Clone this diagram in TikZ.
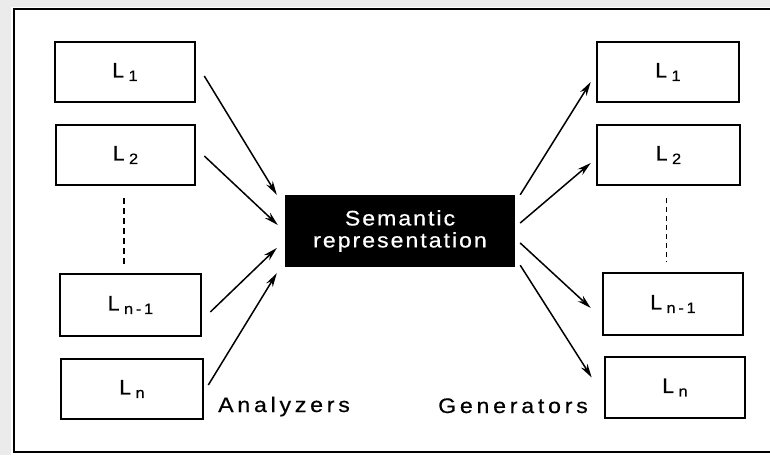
\documentclass[tikz,border=0pt]{standalone}
\usepackage{fontspec}
\setmainfont{Liberation Sans}[FakeBold=0.5]
\newfontfamily\widefont[LetterSpace=9.5,FakeStretch=1.1,FakeBold=0.5]{Liberation Sans}
\newfontfamily\tagfont[LetterSpace=18,FakeStretch=1.1,FakeBold=0.5]{Liberation Sans}
\usetikzlibrary{arrows.meta,calc}

\newcommand{\lang}[1]{L\kern4.5pt\raisebox{-3.5pt}{\tagfont\fontsize{15}{15}\selectfont #1}}

\tikzset{
  langbox/.style={draw=black, line width=2.6pt, fill=white, inner sep=0pt,
    font=\fontsize{21}{21}\selectfont},
  sembox/.style={fill=black, text=white, inner sep=0pt, align=center,
    font=\widefont\fontsize{21}{22}\selectfont},
  arr/.style={line width=1.5pt, -{Stealth[length=14pt,width=7.5pt]}},
  tag/.style={font=\tagfont\fontsize{21}{21}\selectfont, inner sep=0pt},
  frameline/.style={line width=1.8pt},
}

\begin{document}
\begin{tikzpicture}[x=1pt, y=-1pt]
  % page background and frame
  \fill[black!8] (0,0) rectangle (770,455);
  \fill[white] (11,7) rectangle (770,455);
  \useasboundingbox (0,0) rectangle (770,455);
  \draw[frameline] (772,9) -- (14,9) -- (14,452) -- (772,452);

  % analyzer side
  \node[langbox, minimum width=140pt, minimum height=60pt] (l1) at (125,72) {\lang{1}};
  \node[langbox, minimum width=139pt, minimum height=60pt] (l2) at (125.5,155) {\lang{2}};
  \node[langbox, minimum width=141pt, minimum height=62pt] (ln1) at (130.5,305) {\lang{n-1}};
  \node[langbox, minimum width=142pt, minimum height=60pt] (ln) at (132,389) {\lang{n}};

  % generator side
  \node[langbox, minimum width=142pt, minimum height=60pt] (r1) at (668,72) {\lang{1}};
  \node[langbox, minimum width=143pt, minimum height=60pt] (r2) at (668.5,155) {\lang{2}};
  \node[langbox, minimum width=140pt, minimum height=62pt] (rn1) at (673,304) {\lang{n-1}};
  \node[langbox, minimum width=140pt, minimum height=61pt] (rn) at (675,387.5) {\lang{n}};

  % central representation
  \node[sembox, minimum width=230pt, minimum height=72pt] (sem) at (400,231)
    {Semantic\\representation};

  % ellipsis between the second and the (n-1)th language
  \draw[line width=1.8pt, dash pattern=on 6pt off 4pt]
    ($(l2.south)+(-1.5,12)$) -- ($(l2.south |- ln1.north)+(-1.5,-8)$);
  \draw[line width=1pt, dash pattern=on 5pt off 4pt]
    ($(r2.south)+(-2.5,12)$) -- ($(r2.south |- rn1.north)+(-2.5,-10)$);

  % analyzers feed the representation
  \draw[arr] ($(l1.east)+(8,4)$) -- ($(sem.north west)+(-8,0)$);
  \draw[arr] ($(l2.east)+(8,1)$) -- ($(sem.west)+(-7,-6)$);
  \draw[arr] ($(ln1.east)+(8,7)$) -- ($(sem.west)+(-8,17)$);
  \draw[arr] ($(ln.east)+(4,-4)$) -- ($(sem.south west)+(-8,6)$);

  % generators read from it
  \draw[arr] ($(sem.north east)+(5,0)$) -- ($(r1.west)+(-5,10)$);
  \draw[arr] ($(sem.east)+(5,-8)$) -- ($(r2.west)+(-5,8)$);
  \draw[arr] ($(sem.east)+(5,12)$) -- ($(rn1.west)+(-11,4)$);
  \draw[arr] ($(sem.south east)+(5,-2)$) -- ($(rn.west)+(-12,-10)$);

  % side captions
  \node[tag, anchor=base west] (an) at (218,412) {Analyzers};
  \node[tag, anchor=base west] (ge) at (438,413) {Generators};
\end{tikzpicture}
\end{document}
